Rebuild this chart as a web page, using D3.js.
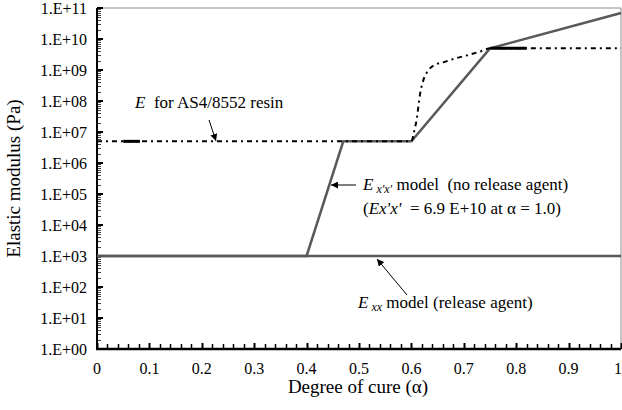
<!DOCTYPE html>
<html>
<head>
<meta charset="utf-8">
<script src="https://cdn.jsdelivr.net/npm/d3@7"></script>
<style>
  body { margin: 0; background: #fff; }
  text { white-space: pre; }
</style>
</head>
<body>
<svg id="chart" width="622" height="410"></svg>
<script>
// degree of cure (alpha) vs elastic modulus (Pa)
const exxAlpha = [0, 1]
const exxValue = [1e3, 1e3]

const expAlpha = [0, 0.4, 0.47, 0.6, 0.75, 1.0]
const expValue = [1e3, 1e3, 5e6, 5e6, 5e9, 6.9e10]

const resinAlpha = [0, 0.6, 0.605, 0.61, 0.616, 0.623, 0.633, 0.648, 0.662, 0.685, 0.707, 0.73, 0.751, 1.0]
const resinValue = [5e6, 5e6, 1e7, 2.5e7, 1.5e8, 4.8e8, 1e9, 1.55e9, 1.8e9, 2.4e9, 3e9, 3.9e9, 5e9, 5e9]

// short solid stretches on the resin line
const resinSolid = [[0.05, 0.082, 5e6], [0.751, 0.82, 5e9]]

const yExponents = d3.range(0, 12)
const xTickValues = d3.range(0, 1.0001, 0.1)

let mLeft = 97, mRight = 621, mTop = 8, mBottom = 349

let svg = d3.select("#chart")
    .attr("font-family", "'Liberation Serif', 'Times New Roman', Tinos, 'DejaVu Serif', serif")
let x = d3.scaleLinear().domain([0, 1]).range([mLeft, mRight])
let y = d3.scaleLog().domain([1, 1e11]).range([mBottom, mTop])

svg.append("defs").append("marker")
    .attr("id", "arrow")
    .attr("viewBox", "0 0 10 10")
    .attr("refX", 10).attr("refY", 5)
    .attr("markerWidth", 7).attr("markerHeight", 7)
    .attr("markerUnits", "userSpaceOnUse")
    .attr("orient", "auto")
    .append("path")
    .attr("d", "M0,0 L10,5 L0,10 Z")
    .attr("fill", "#000")

// frame top / right
svg.append("path")
    .attr("d", `M${mLeft},${mTop} H${mRight} V${mBottom}`)
    .attr("fill", "none")
    .attr("stroke", "#8c8c8c")
    .attr("stroke-width", 1)

// y minor ticks
let yMinor = []
yExponents.slice(0, 11).forEach(e => {
    for (let k = 2; k < 10; k++) yMinor.push(k * Math.pow(10, e))
})
svg.append("g")
    .selectAll("line")
    .data(yMinor)
    .enter()
    .append("line")
    .attr("x1", mLeft).attr("x2", mLeft + 4)
    .attr("y1", d => Math.round(y(d)) + 0.5)
    .attr("y2", d => Math.round(y(d)) + 0.5)
    .attr("stroke", "#444")
    .attr("stroke-width", 1)

svg.append("g")
    .selectAll("line")
    .data(yExponents)
    .enter()
    .append("line")
    .attr("x1", mLeft).attr("x2", mLeft + 6)
    .attr("y1", d => y(Math.pow(10, d)))
    .attr("y2", d => y(Math.pow(10, d)))
    .attr("stroke", "#000")
    .attr("stroke-width", 2)

svg.append("g")
    .selectAll("text")
    .data(yExponents)
    .enter()
    .append("text")
    .attr("x", mLeft - 10)
    .attr("y", d => y(Math.pow(10, d)))
    .attr("dy", "0.35em")
    .attr("text-anchor", "end")
    .attr("font-size", 16)
    .text(d => "1.E+" + (d < 10 ? "0" + d : d))

// x ticks
let xMinor = d3.range(0, 51).map(i => i / 50)
svg.append("g")
    .selectAll("line")
    .data(xMinor)
    .enter()
    .append("line")
    .attr("x1", d => Math.round(x(d)) + 0.5)
    .attr("x2", d => Math.round(x(d)) + 0.5)
    .attr("y1", mBottom).attr("y2", (d, i) => i % 5 == 0 ? mBottom - 6 : mBottom - 5)
    .attr("stroke", "#000")
    .attr("stroke-width", (d, i) => i % 5 == 0 ? 2 : 1.5)

svg.append("g")
    .selectAll("text")
    .data(xTickValues)
    .enter()
    .append("text")
    .attr("x", d => x(d))
    .attr("y", 374)
    .attr("text-anchor", (d, i) => i == 10 ? "end" : "middle")
    .attr("dx", (d, i) => i == 10 ? 1 : 0)
    .attr("font-size", 16)
    .text(d => d3.format("~g")(+d.toFixed(1)))

// axis lines
svg.append("line")
    .attr("x1", mLeft).attr("x2", mLeft)
    .attr("y1", mTop).attr("y2", mBottom + 1)
    .attr("stroke", "#000").attr("stroke-width", 2)
svg.append("line")
    .attr("x1", mLeft - 1).attr("x2", mRight)
    .attr("y1", mBottom).attr("y2", mBottom)
    .attr("stroke", "#000").attr("stroke-width", 2.5)

// series
let line = d3.line().x(d => x(d[0])).y(d => y(d[1]))

svg.append("path")
    .datum(exxAlpha.map((a, i) => [a, exxValue[i]]))
    .attr("d", line)
    .attr("fill", "none")
    .attr("stroke", "#595959")
    .attr("stroke-width", 2.5)

svg.append("path")
    .datum(expAlpha.map((a, i) => [a, expValue[i]]))
    .attr("d", line)
    .attr("fill", "none")
    .attr("stroke", "#595959")
    .attr("stroke-width", 2.5)

svg.append("path")
    .datum(resinAlpha.map((a, i) => [a, resinValue[i]]))
    .attr("d", line.curve(d3.curveMonotoneX))
    .attr("fill", "none")
    .attr("stroke", "#000")
    .attr("stroke-width", 2)
    .attr("stroke-dasharray", "5,4,2,4")

svg.append("g")
    .selectAll("line")
    .data(resinSolid)
    .enter()
    .append("line")
    .attr("x1", d => x(d[0])).attr("x2", d => x(d[1]))
    .attr("y1", d => y(d[2])).attr("y2", d => y(d[2]))
    .attr("stroke", "#000")
    .attr("stroke-width", 3)

// annotations
let ann = svg.append("g").attr("font-size", 17)

let t1 = ann.append("text").attr("x", 135).attr("y", 108)
t1.append("tspan").attr("font-style", "italic").text("E")
t1.append("tspan").text("  for AS4/8552 resin")

let t2 = ann.append("text").attr("x", 363).attr("y", 190)
t2.append("tspan").attr("font-style", "italic").text("E")
t2.append("tspan").attr("font-style", "italic").attr("font-size", 12).attr("dy", 3).text(" x'x'")
t2.append("tspan").attr("dy", -3).text(" model  (no release agent)")

let t3 = ann.append("text").attr("x", 363).attr("y", 214)
t3.append("tspan").text("(")
t3.append("tspan").attr("font-style", "italic").text("Ex'x'")
t3.append("tspan").text("  = 6.9 E+10 at α = 1.0)")

let t4 = ann.append("text").attr("x", 358).attr("y", 308)
t4.append("tspan").attr("font-style", "italic").text("E")
t4.append("tspan").attr("font-style", "italic").attr("font-size", 12).attr("dy", 3).text(" xx")
t4.append("tspan").attr("dy", -3).text(" model (release agent)")

let arrows = [
    [209, 120, 216, 141],
    [356, 185, 331, 185],
    [407, 295, 377, 259]
]
svg.append("g")
    .selectAll("line")
    .data(arrows)
    .enter()
    .append("line")
    .attr("x1", d => d[0]).attr("y1", d => d[1])
    .attr("x2", d => d[2]).attr("y2", d => d[3])
    .attr("stroke", "#000")
    .attr("stroke-width", 1)
    .attr("marker-end", "url(#arrow)")

// axis titles
svg.append("text")
    .attr("x", 358).attr("y", 393)
    .attr("text-anchor", "middle")
    .attr("font-size", 19)
    .text("Degree of cure (α)")

svg.append("text")
    .attr("transform", `translate(20,${(mTop + mBottom) / 2}) rotate(-90)`)
    .attr("text-anchor", "middle")
    .attr("font-size", 19)
    .text("Elastic modulus (Pa)")
</script>
</body>
</html>
